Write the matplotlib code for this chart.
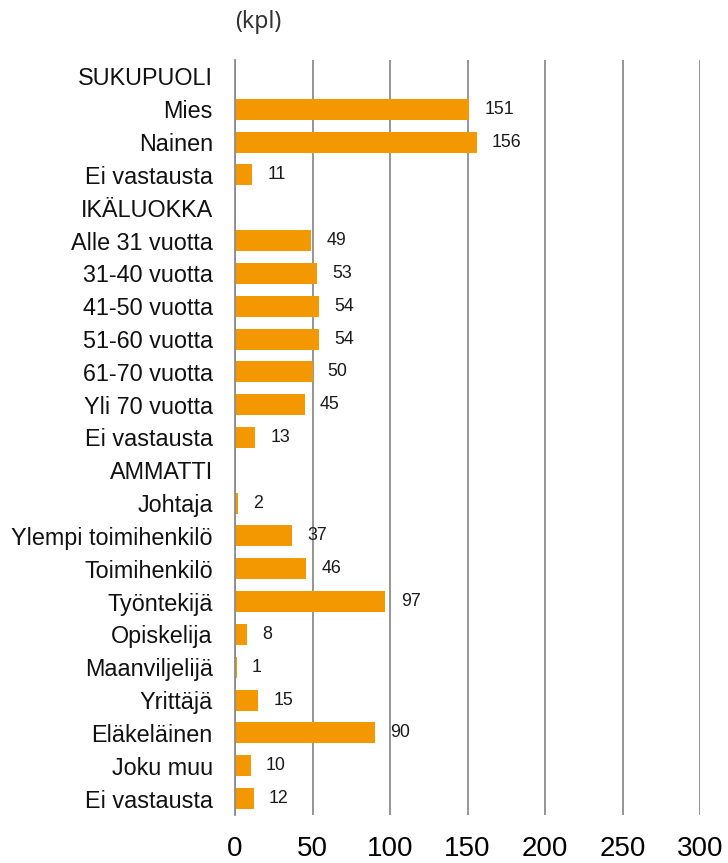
import matplotlib.pyplot as plt
import numpy as np

plt.rcParams['font.family'] = ['Liberation Sans', 'DejaVu Sans']

# rivit ylhäältä alas, otsikkoriveillä ei arvoa
categories = ['SUKUPUOLI', 'Mies', 'Nainen', 'Ei vastausta',
              'IKÄLUOKKA', 'Alle 31 vuotta', '31-40 vuotta', '41-50 vuotta',
              '51-60 vuotta', '61-70 vuotta', 'Yli 70 vuotta', 'Ei vastausta',
              'AMMATTI', 'Johtaja', 'Ylempi toimihenkilö', 'Toimihenkilö',
              'Työntekijä', 'Opiskelija', 'Maanviljelijä', 'Yrittäjä',
              'Eläkeläinen', 'Joku muu', 'Ei vastausta']
values = [None, 151, 156, 11,
          None, 49, 53, 54, 54, 50, 45, 13,
          None, 2, 37, 46, 97, 8, 1, 15, 90, 10, 12]
xticks = [0, 50, 100, 150, 200, 250, 300]

fig = plt.figure(figsize=(7.28, 8.63), dpi=100)
ax = fig.add_axes([235 / 728, 1 - 815 / 863, 465 / 728, 755 / 863])

y = np.arange(len(categories))
vals = np.array([np.nan if v is None else v for v in values], dtype=float)

ax.barh(y, np.nan_to_num(vals), height=0.64, color='#F39800', zorder=3)

for yi, v in zip(y, values):
    if v is None:
        continue
    ax.annotate(str(v), xy=(v, yi), xytext=(11, 0), textcoords='offset points',
                ha='left', va='center', fontsize=12.8, color='#1a1a1a')

ax.set_xlim(0, 300)
ax.set_ylim(len(categories) - 0.5, -0.5)
ax.set_xticks(xticks)
ax.set_xticklabels([str(t) for t in xticks], fontsize=20)
ax.set_yticks(y)
ax.set_yticklabels(categories, fontsize=16.8, color='#111111')
ax.tick_params(axis='both', length=0)
ax.tick_params(axis='x', pad=15)
ax.tick_params(axis='y', pad=16)

ax.grid(axis='x', color='#8c8c8c', linewidth=1.3, zorder=1)
for s in ['top', 'right', 'bottom']:
    ax.spines[s].set_visible(False)
ax.spines['left'].set_color('#8c8c8c')
ax.spines['left'].set_linewidth(1.3)
ax.spines['left'].set_zorder(4)

fig.text(235 / 728, 1 - 22 / 863, '(kpl)', fontsize=16.5, color='#333333',
         family=['Noto Sans', 'DejaVu Sans'], ha='left', va='center')

fig.savefig('out.png', dpi=100)
